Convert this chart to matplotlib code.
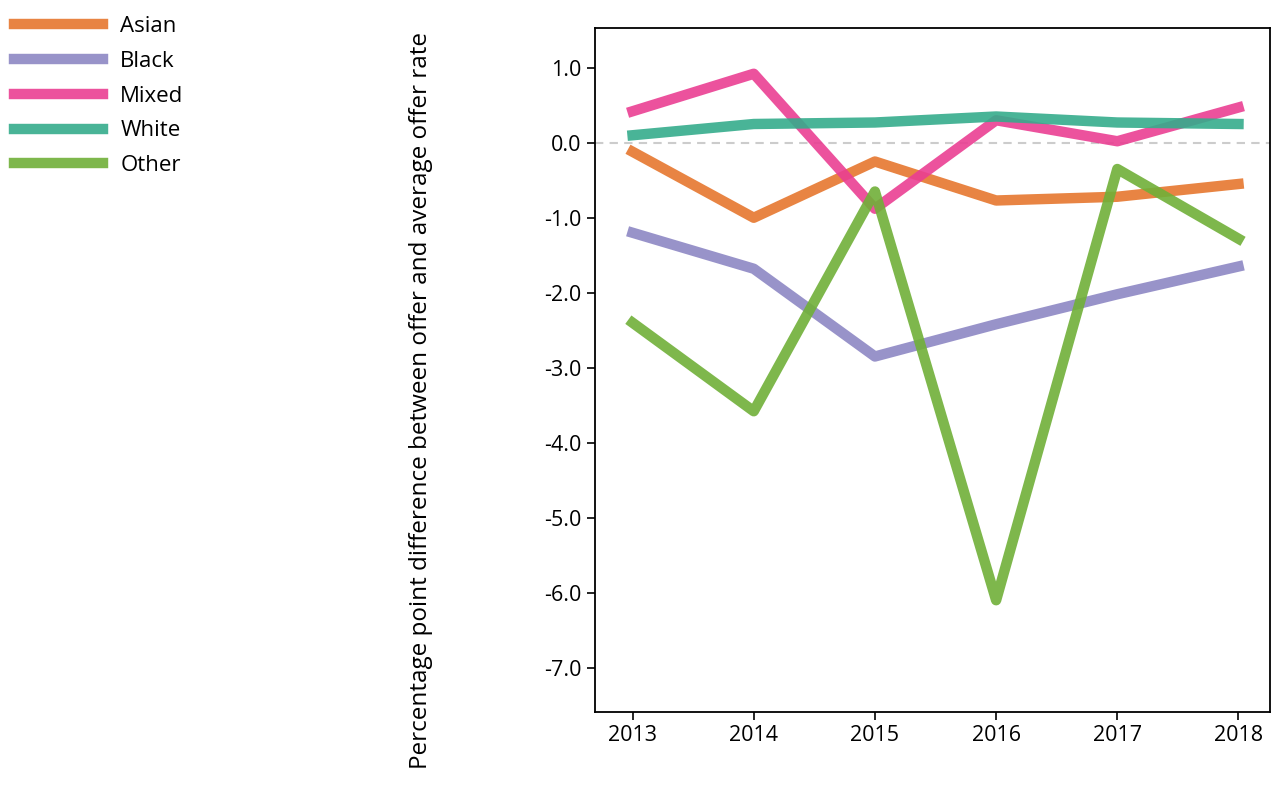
import matplotlib
matplotlib.use("Agg")
import matplotlib.pyplot as plt

years = [2013, 2014, 2015, 2016, 2017, 2018]
asian = [-0.12, -1.0, -0.25, -0.77, -0.72, -0.55]
black = [-1.2, -1.68, -2.85, -2.42, -2.02, -1.65]
mixed = [0.42, 0.92, -0.88, 0.3, 0.02, 0.47]
white = [0.1, 0.25, 0.27, 0.35, 0.27, 0.25]
other = [-2.4, -3.58, -0.65, -6.1, -0.35, -1.28]

series = [("Asian", asian, "#e6772e"), ("Black", black, "#8d87c4"),
          ("Mixed", mixed, "#ea3f93"), ("White", white, "#35ac8c"),
          ("Other", other, "#70b038")]

plt.rcParams['font.family'] = ['Open Sans', 'DejaVu Sans']
fig = plt.figure(figsize=(12.72, 7.91), dpi=100)
ax = fig.add_axes([595/1272, 1-712/791, 675/1272, 684/791])

ax.axhline(0, color="#cccccc", lw=1.5, ls=(0, (4, 3)))
handles = []
for name, vals, col in series:
    h, = ax.plot(years, vals, color=col, lw=7.5, alpha=0.9, label=name)
    handles.append(h)

ax.set_xlim(2012.69, 2018.26)
ax.set_ylim(-7.59, 1.53)
ax.set_xticks(years)
ax.set_yticks(range(-7, 2))
ax.set_yticklabels([f"{v:.1f}" for v in range(-7, 2)])
ax.tick_params(labelsize=15.5, direction="out", length=6, width=1.2)
for s in ax.spines.values():
    s.set_linewidth(1.3)
ax.set_ylabel("Percentage point difference between offer and average offer rate",
              fontsize=17.5)
ax.yaxis.set_label_coords(-0.24, 0.455)
fig.legend(handles=handles, loc="upper left", bbox_to_anchor=(-0.005, 1.005),
           frameon=False, fontsize=16, handlelength=4.0, labelspacing=0.62)
fig.savefig("out.png")
